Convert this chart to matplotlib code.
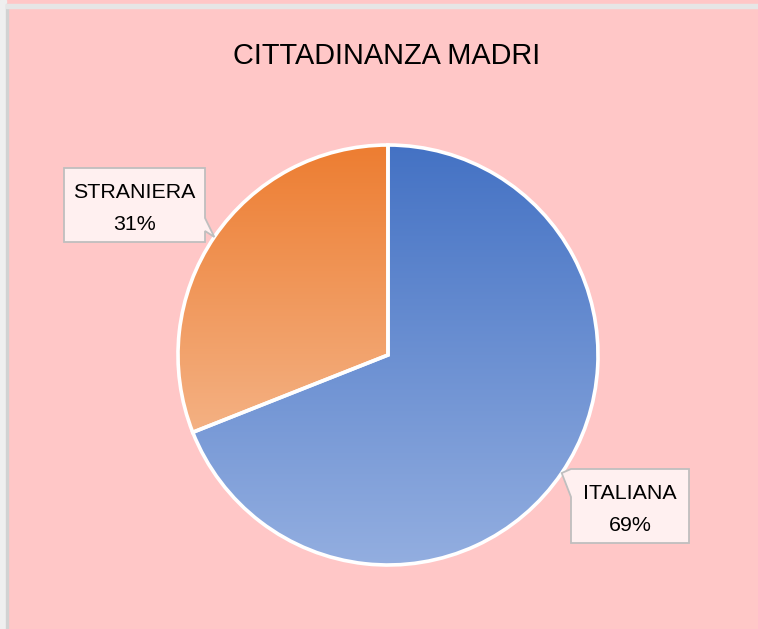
import matplotlib
matplotlib.use('Agg')
import matplotlib.pyplot as plt
import numpy as np
from matplotlib.patches import Polygon, Rectangle
from matplotlib.colors import LinearSegmentedColormap

plt.rcParams['font.family'] = ['Liberation Sans', 'DejaVu Sans']

title = 'CITTADINANZA MADRI'
categories = ['ITALIANA', 'STRANIERA']
shares = [69, 31]
top_colors = ['#4472C4', '#ED7D31']
bottom_colors = ['#93AEE0', '#F4B183']

W, H = 758, 629
bg = '#FFC7C7'

fig = plt.figure(figsize=(W / 100, H / 100), dpi=100, facecolor=bg)
ax = fig.add_axes([0, 0, 1, 1])
ax.set_facecolor(bg)

# window-ish border on the left and top
ax.add_patch(Rectangle((0, 0), 6, H, color='#EFEFEF', zorder=0))
ax.add_patch(Rectangle((6, 0), 2, H - 4, color='#D2D2D2', zorder=0))
ax.add_patch(Rectangle((6, H - 8), W, 4, color='#E6E6E6', zorder=0))

cx, cy, r = 388, H - 355, 210
wedges, _ = ax.pie(shares, startangle=90, counterclock=False, center=(cx, cy),
                   radius=r, wedgeprops=dict(edgecolor='white', linewidth=2.6))

# vertical gradient in every slice
for w, c0, c1 in zip(wedges, top_colors, bottom_colors):
    bb = w.get_path().get_extents()
    cmap = LinearSegmentedColormap.from_list('g', [c1, c0])
    grad = np.linspace(0, 1, 256).reshape(-1, 1)
    im = ax.imshow(grad, cmap=cmap, extent=[bb.x0, bb.x1, bb.y0, bb.y1],
                   origin='lower', aspect='auto', zorder=1, interpolation='bilinear')
    im.set_clip_path(w)
    w.set_facecolor('none')
    w.set_zorder(2)

# callout boxes: left, top, right, bottom in pixels (y down), pointer base on side
boxes = {
    'ITALIANA': (571, 469, 689, 543, 'left', 469, 497),
    'STRANIERA': (64, 168, 205, 242, 'right', 218, 231),
}

for w, name, val in zip(wedges, categories, shares):
    mid = np.deg2rad((w.theta1 + w.theta2) / 2)
    tip = (cx + r * np.cos(mid), cy + r * np.sin(mid))
    x0, t, x1, b, side, p0, p1 = boxes[name]
    t, b, p0, p1 = H - t, H - b, H - p0, H - p1
    if side == 'right':
        pts = [(x0, t), (x1, t), (x1, p0), tip, (x1, p1), (x1, b), (x0, b)]
    else:
        pts = [(x0, t), (x1, t), (x1, b), (x0, b), (x0, p1), tip, (x0, p0)]
    ax.add_patch(Polygon(pts, closed=True, facecolor='#FFF0F0', edgecolor='#BFBFBF',
                         linewidth=1.3, zorder=3))
    xc = (x0 + x1) / 2
    ax.text(xc, t - 30, name, ha='center', va='baseline', fontsize=15.4, color='black', zorder=4)
    ax.text(xc, t - 62, f'{val}%', ha='center', va='baseline', fontsize=15.4, color='black', zorder=4)

ax.text(387, H - 64, title, ha='center', va='baseline', fontsize=20.8, color='black')

ax.set_xlim(0, W)
ax.set_ylim(0, H)
ax.set_aspect('auto')
ax.axis('off')

fig.savefig('out.png', dpi=100, facecolor=bg)
